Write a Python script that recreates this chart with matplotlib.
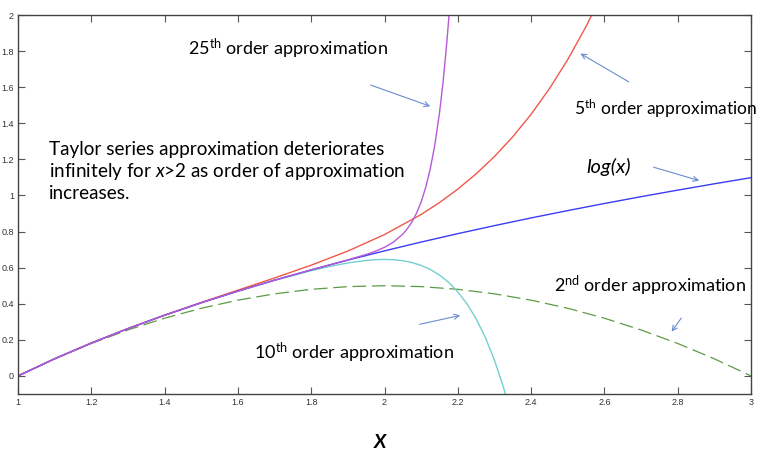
import matplotlib
matplotlib.use("Agg")
import matplotlib.pyplot as plt

# values (x, y pairs per curve)
log_x = [1.0, 1.1, 1.2, 1.3, 1.4, 1.5, 1.6, 1.7, 1.8, 1.9, 2.0,
         2.1, 2.2, 2.3, 2.4, 2.5, 2.6, 2.7, 2.8, 2.9, 3.0]
log_y = [0.0, 0.0953, 0.1823, 0.2624, 0.3365, 0.4055, 0.4700, 0.5306, 0.5878, 0.6419, 0.6931,
         0.7419, 0.7885, 0.8329, 0.8755, 0.9163, 0.9555, 0.9933, 1.0296, 1.0647, 1.0986]

order2_x = [1.0, 1.1, 1.2, 1.3, 1.4, 1.5, 1.6, 1.7, 1.8, 1.9, 2.0,
            2.1, 2.2, 2.3, 2.4, 2.5, 2.6, 2.7, 2.8, 2.9, 3.0]
order2_y = [0.0, 0.095, 0.18, 0.255, 0.32, 0.375, 0.42, 0.455, 0.48, 0.495, 0.5,
            0.495, 0.48, 0.455, 0.42, 0.375, 0.32, 0.255, 0.18, 0.095, 0.0]

order5_x = [1.0, 1.1, 1.2, 1.3, 1.4, 1.5, 1.6, 1.7, 1.8, 1.9, 2.0, 2.1,
            2.15, 2.2, 2.25, 2.3, 2.35, 2.4, 2.45, 2.5, 2.55, 2.6]
order5_y = [0.0, 0.0953, 0.1823, 0.2625, 0.3370, 0.4073, 0.4752, 0.5429, 0.6138, 0.6921, 0.7833, 0.8947,
            0.9607, 1.0353, 1.1198, 1.2159, 1.3253, 1.4499, 1.5918, 1.7531, 1.9364, 2.1441]

order10_x = [1.0, 1.1, 1.2, 1.3, 1.4, 1.5, 1.6, 1.7, 1.8, 1.85, 1.9, 1.95, 1.975, 2.0,
             2.025, 2.05, 2.075, 2.1, 2.125, 2.15, 2.175, 2.2, 2.225, 2.25, 2.275, 2.3, 2.325, 2.35]
order10_y = [0.0, 0.0953, 0.1823, 0.2624, 0.3365, 0.4055, 0.4698, 0.5296, 0.5833, 0.6066, 0.6262, 0.6401, 0.6442, 0.6456,
             0.6440, 0.6385, 0.6283, 0.6125, 0.5900, 0.5592, 0.5185, 0.4661, 0.3997, 0.3167, 0.2139, 0.0879, -0.0655, -0.2510]

order25_x = [1.0, 1.1, 1.2, 1.3, 1.4, 1.5, 1.6, 1.7, 1.75, 1.8, 1.85, 1.9, 1.95, 1.975, 2.0,
             2.025, 2.05, 2.0625, 2.075, 2.0875, 2.1, 2.1125, 2.125, 2.1375, 2.15, 2.16, 2.17, 2.175, 2.18]
order25_y = [0.0, 0.0953, 0.1823, 0.2624, 0.3365, 0.4055, 0.4700, 0.5306, 0.5596, 0.5879, 0.6155, 0.6432, 0.6731, 0.6908, 0.7128,
             0.7424, 0.7859, 0.8159, 0.8539, 0.9024, 0.9646, 1.0449, 1.1486, 1.2828, 1.4566, 1.6318, 1.8470, 1.9723, 2.1112]

xticks = [1, 1.2, 1.4, 1.6, 1.8, 2, 2.2, 2.4, 2.6, 2.8, 3]
xtick_labels = ["1", "1.2", "1.4", "1.6", "1.8", "2", "2.2", "2.4", "2.6", "2.8", "3"]
yticks = [0, 0.2, 0.4, 0.6, 0.8, 1, 1.2, 1.4, 1.6, 1.8, 2]
ytick_labels = ["0", "0.2", "0.4", "0.6", "0.8", "1", "1.2", "1.4", "1.6", "1.8", "2"]

plt.rcParams['font.family'] = ['Lato', 'DejaVu Sans']
plt.rcParams['mathtext.fontset'] = 'custom'
plt.rcParams['mathtext.rm'] = 'Lato'
plt.rcParams['mathtext.it'] = 'Lato:italic'

fig = plt.figure(figsize=(7.65, 4.51), dpi=100)
ax = fig.add_axes([18/765, 1-394/451, (751-18)/765, (394-15)/451])

ax.plot(order2_x, order2_y, color='#5e9a46', lw=0.9, dashes=(11, 4.5))
ax.plot(order10_x, order10_y, color='#74cfcf', lw=1.0)
ax.plot(order5_x, order5_y, color='#f0584a', lw=1.0)
ax.plot(log_x, log_y, color='#3c3cf2', lw=1.0)
ax.plot(order25_x, order25_y, color='#b65ad6', lw=1.0)

ax.set_xlim(1, 3)
ax.set_ylim(-0.1, 2)
ax.set_xticks(xticks)
ax.set_xticklabels(xtick_labels)
ax.set_yticks(yticks)
ax.set_yticklabels(ytick_labels)
ax.tick_params(direction='in', length=5, width=0.8, color='#555555',
               top=True, right=True, labelsize=6.5, labelcolor='#333333', pad=3)
for lab in ax.get_xticklabels() + ax.get_yticklabels():
    lab.set_family('Liberation Sans')
for s in ax.spines.values():
    s.set_color('#444444')
    s.set_linewidth(1.0)

# annotations
arrow = dict(arrowstyle='->', color='#6a8ccc', lw=0.8, mutation_scale=9)
fs = 13
ax.text(1.464, 1.811, r"25$^{\rm th}$ order approximation", fontsize=fs, va='center')
ax.annotate('', xy=(2.132, 1.489), xytext=(1.955, 1.617), arrowprops=arrow)

ax.text(2.517, 1.483, r"5$^{\rm th}$ order approximation", fontsize=12.5, va='center')
ax.annotate('', xy=(2.528, 1.794), xytext=(2.673, 1.622), arrowprops=arrow)

ax.text(2.550, 1.156, "log(x)", fontsize=14.5, style='italic', va='center')
ax.annotate('', xy=(2.866, 1.078), xytext=(2.727, 1.161), arrowprops=arrow)

ax.text(1.085, 1.133, "Taylor series approximation deteriorates\n"
        r"infinitely for $x$>2 as order of approximation" "\n"
        "increases.", fontsize=13.6, va='center', linespacing=1.22)

ax.text(2.462, 0.5, r"2$^{\rm nd}$ order approximation", fontsize=fs, va='center')
ax.annotate('', xy=(2.779, 0.233), xytext=(2.814, 0.333), arrowprops=arrow)

ax.text(1.644, 0.128, r"10$^{\rm th}$ order approximation", fontsize=fs, va='center')
ax.annotate('', xy=(2.214, 0.339), xytext=(2.089, 0.283), arrowprops=arrow)

fig.text(380/765, 1-442/451, "X", fontsize=14, fontweight='bold', style='italic',
         ha='center', va='center')

fig.savefig("out.png", dpi=100)
